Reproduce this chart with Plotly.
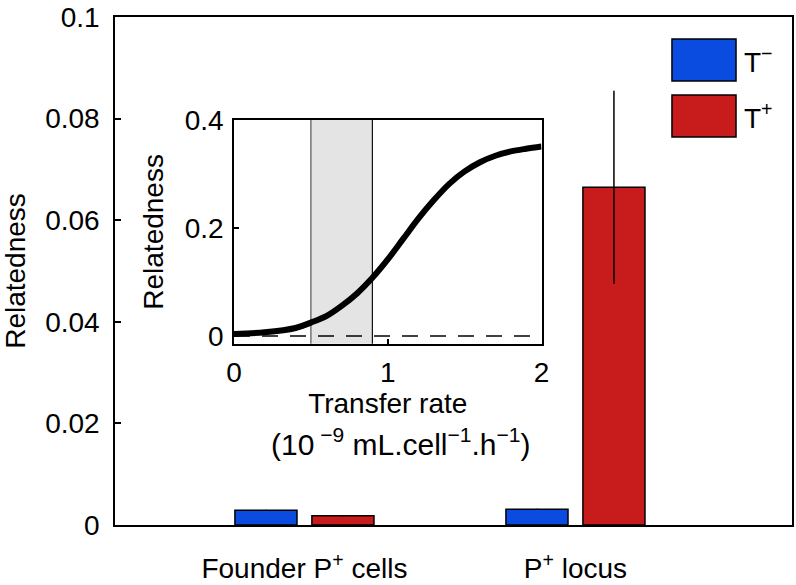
import plotly.graph_objects as go

# ---- data ----
categories = ["Founder P<sup>+</sup> cells", "P<sup>+</sup> locus"]
t_minus = [0.0029, 0.0031]
t_plus = [0.0018, 0.0665]
t_minus_err = [0.0001, 0.0001]
t_plus_err = [0.0001, 0.019]
main_yticks = [0, 0.02, 0.04, 0.06, 0.08, 0.1]
main_yticklabels = ["0", "0.02", "0.04", "0.06", "0.08", "0.1"]

rate = [0.0, 0.2, 0.4, 0.5, 0.6, 0.7, 0.8, 0.9, 1.0, 1.1, 1.2, 1.3, 1.4, 1.5, 1.6, 1.7, 1.8, 1.9, 2.0]
relatedness = [0.004, 0.007, 0.015, 0.025, 0.037, 0.056, 0.079, 0.108, 0.142, 0.180, 0.218,
               0.252, 0.282, 0.305, 0.322, 0.334, 0.342, 0.347, 0.351]
shade_band = [0.5, 0.9]
inset_xticks = [0, 1, 2]
inset_yticks = [0, 0.2, 0.4]
inset_yticklabels = ["0", "0.2", "0.4"]

BLUE = "#0a4be0"
RED = "#c81c1c"
FONT = "Liberation Sans, Arial, Helvetica, sans-serif"
FS = 28
TITLE_FONT = dict(size=28, color="black", family=FONT)

fig = go.Figure()

bw = 0.229
fig.add_trace(go.Bar(
    x=categories, y=t_minus, width=bw, offset=-0.142 - bw / 2,
    marker=dict(color=BLUE, line=dict(color="black", width=1.5)),
    error_y=dict(type="data", array=t_minus_err, color="black", thickness=1.5, width=0),
    name="T<sup>−</sup>", showlegend=False, xaxis="x", yaxis="y"))
fig.add_trace(go.Bar(
    x=categories, y=t_plus, width=bw, offset=0.142 - bw / 2,
    marker=dict(color=RED, line=dict(color="black", width=1.5)),
    error_y=dict(type="data", array=t_plus_err, color="black", thickness=1.5, width=0),
    name="T<sup>+</sup>", showlegend=False, xaxis="x", yaxis="y"))

# inset
fig.add_trace(go.Scatter(
    x=[0, 2], y=[0, 0], mode="lines",
    line=dict(color="black", width=1.5, dash="16px,12px"),
    showlegend=False, xaxis="x2", yaxis="y2"))
fig.add_trace(go.Scatter(
    x=rate, y=relatedness, mode="lines", line_shape="spline",
    line=dict(color="black", width=6, smoothing=1.0),
    showlegend=False, xaxis="x2", yaxis="y2"))

fig.add_shape(type="rect", xref="x2", yref="y2 domain",
              x0=shade_band[0], x1=shade_band[1], y0=0, y1=1,
              fillcolor="#e4e4e4", line=dict(width=0), layer="below")
fig.add_shape(type="line", xref="x2", yref="y2 domain",
              x0=shade_band[0], x1=shade_band[0], y0=0, y1=1,
              line=dict(color="#555555", width=1.2), layer="below")
fig.add_shape(type="line", xref="x2", yref="y2 domain",
              x0=shade_band[1], x1=shade_band[1], y0=0, y1=1,
              line=dict(color="#111111", width=1.2), layer="below")

# second line of the inset x label
fig.add_annotation(xref="paper", yref="paper", x=0.421, y=0.163,
                   text="(10<sup> −9</sup> mL.cell<sup>−1</sup>.h<sup>−1</sup>)",
                   showarrow=False, xanchor="center", yanchor="middle",
                   font=dict(size=30, color="black", family=FONT))

# legend drawn manually
legend_items = [("T<sup>−</sup>", BLUE, 0.9567, 0.874), ("T<sup>+</sup>", RED, 0.8465, 0.7638)]
for label, col, y1, y0 in legend_items:
    fig.add_shape(type="rect", xref="paper", yref="paper",
                  x0=0.8227, x1=0.9173, y0=y0, y1=y1,
                  fillcolor=col, line=dict(color="black", width=1.5))
    fig.add_annotation(xref="paper", yref="paper", x=0.9255, y=(y0 + y1) / 2,
                       text=label, showarrow=False, xanchor="left", yanchor="middle",
                       font=dict(size=FS, color="black", family=FONT))

axis_common = dict(showline=True, linecolor="black", linewidth=1.5, mirror=True,
                   showgrid=False, zeroline=False, automargin=False)

fig.update_layout(
    width=796, height=585,
    margin=dict(l=115, r=4, t=17, b=60),
    paper_bgcolor="white", plot_bgcolor="rgba(0,0,0,0)",
    font=dict(family=FONT, size=FS, color="black"),
    barmode="overlay",
    xaxis=dict(**axis_common, type="category", range=[-0.699, 1.799], ticks="",
               ticklabelstandoff=18, domain=[0, 1]),
    yaxis=dict(**axis_common, range=[0, 0.1], tickvals=main_yticks, ticktext=main_yticklabels,
               ticks="inside", ticklen=6, tickwidth=1.5, tickcolor="black",
               ticklabelstandoff=8, ticklabeloverflow="allow",
               title=dict(text="Relatedness", standoff=50, font=TITLE_FONT), domain=[0, 1]),
    xaxis2=dict(**axis_common, anchor="y2", domain=[0.1758, 0.630], range=[0, 2],
                tickvals=inset_xticks, ticks="inside", ticklen=5, tickwidth=1.5,
                tickcolor="black", ticklabelstandoff=3,
                title=dict(text="Transfer rate", standoff=4, font=TITLE_FONT)),
    yaxis2=dict(**axis_common, anchor="x2", domain=[0.357, 0.797], range=[-0.014, 0.4],
                tickvals=inset_yticks, ticktext=inset_yticklabels,
                ticks="inside", ticklen=5, tickwidth=1.5, tickcolor="black",
                ticklabelstandoff=3,
                title=dict(text="Relatedness", standoff=13, font=TITLE_FONT)),
)

# remove the default page margin so the figure sits at the window's top-left corner
fig.write_html("out.html",
               config={"displayModeBar": False},
               post_script="document.body.style.margin='0px';document.body.style.overflow='hidden';")
